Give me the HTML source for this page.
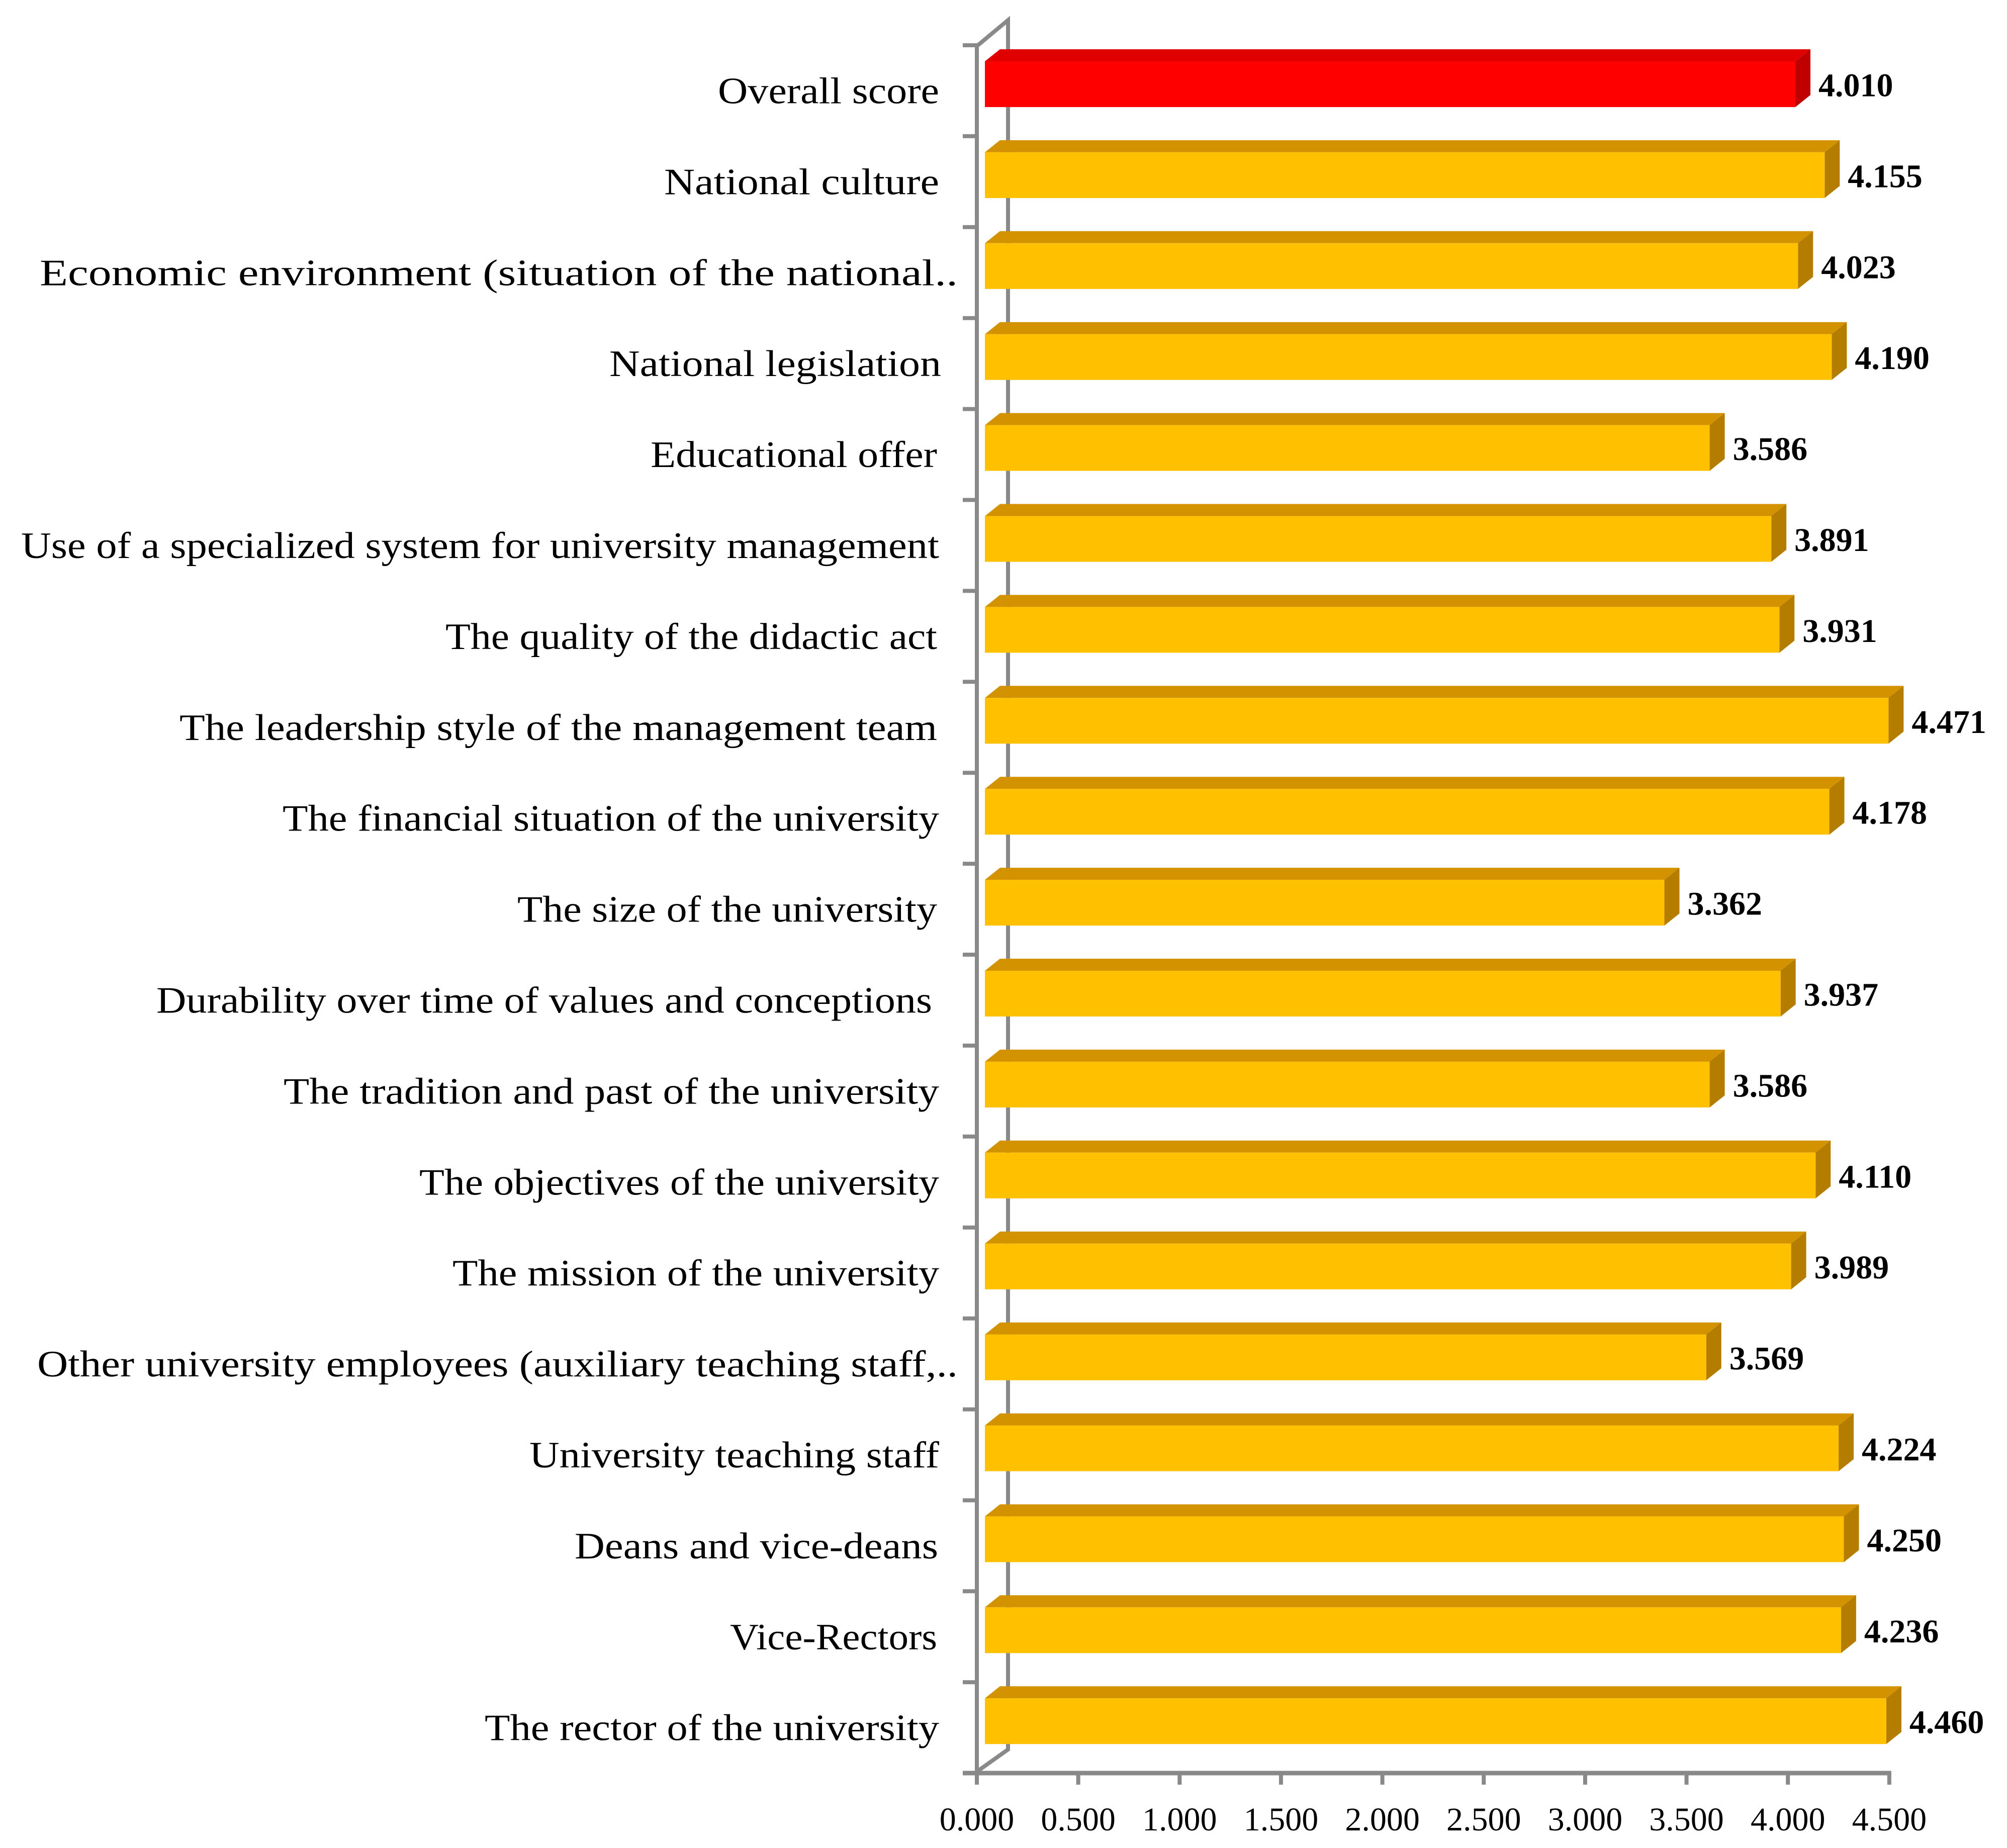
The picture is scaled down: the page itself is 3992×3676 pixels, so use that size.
<!DOCTYPE html>
<html><head><meta charset="utf-8"><style>
html,body{margin:0;padding:0;background:#fff;}
svg{display:block;}
</style></head><body>
<svg id="chart" width="3992" height="3676" viewBox="0 0 3992 3676" xmlns="http://www.w3.org/2000/svg">
<g id="axes"></g>
<g id="bars"></g>
<g id="labels"></g>
</svg>
<script>
const categories = ["Overall score","National culture","Economic environment (situation of the national..","National legislation","Educational offer","Use of a specialized system for university management","The quality of the didactic act","The leadership style of the management team","The financial situation of the university","The size of the university","Durability over time of values and conceptions","The tradition and past of the university","The objectives of the university","The mission of the university","Other university employees (auxiliary teaching staff,..","University teaching staff","Deans and vice-deans","Vice-Rectors","The rector of the university"];
const values = [4.010,4.155,4.023,4.190,3.586,3.891,3.931,4.471,4.178,3.362,3.937,3.586,4.110,3.989,3.569,4.224,4.250,4.236,4.460];
const valueLabels = ["4.010","4.155","4.023","4.190","3.586","3.891","3.931","4.471","4.178","3.362","3.937","3.586","4.110","3.989","3.569","4.224","4.250","4.236","4.460"];
const tickValues = [0,0.5,1,1.5,2,2.5,3,3.5,4,4.5];
const tickLabels = ["0.000","0.500","1.000","1.500","2.000","2.500","3.000","3.500","4.000","4.500"];
const labelWidths = [440,547,1826,660,570,1826,978,1507,1306,835,1543,1304,1034,968,1831,815,723,412,904];
const labelRight = [1868,1868,1905,1872,1864,1868,1864,1864,1868,1864,1854,1868,1868,1868,1905,1868,1866,1864,1868];

const NS="http://www.w3.org/2000/svg";
function mk(tag,attrs,parent){const e=document.createElementNS(NS,tag);for(const k in attrs)e.setAttribute(k,attrs[k]);parent.appendChild(e);return e;}
const X0=1959, K=402, AXX=1943, TOP0=122, STEP=180.9, BH=91, DX=30, DY=24;
function xs(v){return X0+v*K;}
function axisX(v){return AXX+v*403.3;}
function ys(i){return TOP0+i*STEP;}
const axes=document.getElementById('axes'), bars=document.getElementById('bars'), labels=document.getElementById('labels');
const G="#898989";
let l=mk('polyline',{points:`${AXX+2},90 2005,40 2005,3480 1946,3522`,fill:'none',stroke:G,'stroke-width':8},axes);


l=mk('line',{x1:AXX,y1:88,x2:AXX,y2:3550,stroke:G,'stroke-width':8},axes);


l=mk('line',{x1:1915,y1:3527,x2:axisX(4.5)+4,y2:3527,stroke:G,'stroke-width':9},axes);


for(let i=0;i<categories.length;i++){
  const t=mk('line',{x1:1915,y1:90+i*STEP,x2:AXX,y2:90+i*STEP,stroke:G,'stroke-width':8},axes);
  
  
}
tickValues.forEach((v,i)=>{
  const t=mk('line',{x1:axisX(v),y1:3527,x2:axisX(v),y2:3550,stroke:G,'stroke-width':8},axes);
  
  
  const tx=mk('text',{x:axisX(v),y:3641,'text-anchor':'middle','font-family':'Liberation Serif, serif','font-size':66,fill:'#000'},axes);
  tx.textContent=tickLabels[i];
  
  
});
values.forEach((v,i)=>{
  const red=i===0;
  const front=red?'#FF0000':'#FFC000', top=red?'#E00000':'#D39200', side=red?'#C00000':'#B47D00';
  const y=ys(i), x1=xs(v);
  const g=mk('g',{},bars);
  
  
  mk('polygon',{points:`${X0},${y} ${X0+DX},${y-DY} ${x1+DX},${y-DY} ${x1},${y}`,fill:top},g);
  mk('polygon',{points:`${x1},${y} ${x1+DX},${y-DY} ${x1+DX},${y+BH-DY} ${x1},${y+BH}`,fill:side},g);
  mk('rect',{x:X0,y:y,width:x1-X0,height:BH,fill:front},g);
  const vt=mk('text',{x:x1+DX+16,y:y+BH/2+24,'font-family':'Liberation Serif, serif','font-size':66,'font-weight':'bold',fill:'#000'},bars);
  vt.textContent=valueLabels[i];
  
  
  const ct=mk('text',{x:labelRight[i]-labelWidths[i],y:y+BH/2+38,'font-family':'Liberation Serif, serif','font-size':74,fill:'#000',textLength:labelWidths[i],lengthAdjust:'spacingAndGlyphs'},labels);
  ct.textContent=categories[i];
  
  
});
</script>
</body></html>
